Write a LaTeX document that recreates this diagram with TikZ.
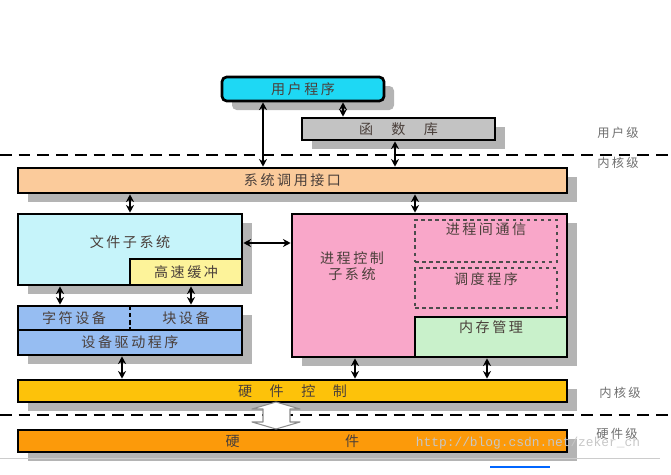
\documentclass[tikz,border=0pt]{standalone}
\usepackage{fontspec}
\setmainfont{Noto Sans CJK SC}[LetterSpace=18]
\newfontfamily\wmfont{Liberation Mono}
\usetikzlibrary{arrows.meta,positioning,calc,fit,shadows}
\definecolor{lkCyan}{HTML}{1ED8F4}
\definecolor{lkLib}{HTML}{C3C3C3}
\definecolor{lkPeach}{HTML}{FBCB9B}
\definecolor{lkIce}{HTML}{C6F4FA}
\definecolor{lkYellow}{HTML}{FDF39A}
\definecolor{lkPink}{HTML}{F9A7C9}
\definecolor{lkMint}{HTML}{C9F1CB}
\definecolor{lkBlue}{HTML}{96BDF2}
\definecolor{lkAmber}{HTML}{FDC20A}
\definecolor{lkOrange}{HTML}{FC9A0A}
\definecolor{lkInk}{HTML}{4A3F3A}
\definecolor{lkShade}{HTML}{B4B4B4}
\definecolor{lkGray}{HTML}{6E6E6E}

\begin{document}
\begin{tikzpicture}[
  x=0.03cm, y=-0.03cm,
  font=\fontsize{12}{14}\selectfont, >={Stealth[length=2.3mm,width=2.4mm]},
  every label/.style={text=lkInk,inner sep=0pt},
  blk/.style={draw=black,line width=2.3pt,inner sep=0pt},
  shd/.style={general shadow={shadow xshift=0.3cm,shadow yshift=-0.27cm,fill=lkShade}},
  lvl/.style={text=lkGray,font=\fontsize{10.5}{12}\selectfont},
  lvline/.style={line width=1.8pt,dash pattern=on 10pt off 6pt},
  con/.style={<->,line width=1.6pt},
  dsub/.style={draw=black!70,line width=1.2pt,dashed,inner sep=0pt},
]
\useasboundingbox (0,0) rectangle (671,474);

% user level
\node[blk,shd,fill=lkCyan,rounded corners=4pt,fit={(222,77) (384,101)},
      label={center:用户程序}] (user) {};
\node[blk,shd,fill=lkLib,fit={(302,118) (495,140)},
      label={center:函\hspace{1.3em}数\hspace{1.3em}库}] (lib) {};
\node[lvl] (ulvl) at (618,133) {用户级};
\draw[lvline] (0,155) -- (671,155);
\node[lvl] (klvl) at (618,163) {内核级};

% kernel
\node[blk,shd,fill=lkPeach,fit={(18,168) (567,193)},
      label={center:系统调用接口}] (sys) {};
\node[blk,shd,fill=lkIce,fit={(18,214) (242,285)},
      label={[anchor=north,yshift=-19pt]north:文件子系统}] (fs) {};
\node[blk,fill=lkYellow,fit={(130,259) (242,285)},
      label={center:高速缓冲}] (cache) {};
\node[blk,shd,fill=lkBlue,fit={(18,306) (242,330)}] (devtop) {};
\node[inner sep=0pt,fit={(18,306) (130,330)},label={center:字符设备}] (chr) {};
\node[inner sep=0pt,fit={(130,306) (242,330)},label={center:块设备}] (bdev) {};
\draw[line width=1.6pt,dash pattern=on 4pt off 2pt] (chr.north east) -- (chr.south east);
\node[blk,shd,fill=lkBlue,fit={(18,330) (242,355)},
      label={center:设备驱动程序}] (drv) {};

\node[blk,shd,fill=lkPink,fit={(292,214) (567,357)}] (proc) {};
\node[text=lkInk,align=center,inner sep=0pt] (proctxt) at (352,266) {进程控制\\子系统};
\node[dsub,fit={(415,220) (557,262)},
      label={[anchor=north,yshift=-3pt]north:进程间通信}] (ipc) {};
\node[dsub,fit={(415,268) (557,308)},
      label={[anchor=north,yshift=-4pt]north:调度程序}] (sched) {};
\node[blk,fill=lkMint,fit={(415,317) (567,357)},
      label={[anchor=north,yshift=-4pt]north:内存管理}] (mem) {};

\node[blk,shd,fill=lkAmber,fit={(18,380) (567,402)},
      label={center:硬\hspace{1.25em}件\hspace{1.25em}控\hspace{1.25em}制}] (hwc) {};
\node[lvl] (klvl2) at (620,393) {内核级};
\draw[lvline] (0,415) -- (671,415);

% hardware
\node[blk,shd,fill=lkOrange,fit={(18,430) (567,452)},
      label={center:硬\hspace{7.5em}件}] (hw) {};
\node[text=black!22,font=\wmfont\fontsize{11}{12}\selectfont] (wm) at (528,443)
  {http://blog.csdn.net/zeker\_ch};
\node[lvl] (hlvl) at (617,434) {硬件级};

% connectors
\coordinate (xa) at (263,0);
\coordinate (xb) at (343,0);
\coordinate (xc) at (395,0);
\coordinate (xd) at (130,0);
\coordinate (xe) at (415,0);
\coordinate (xf) at (60,0);
\coordinate (xg) at (191,0);
\coordinate (xh) at (122,0);
\coordinate (xi) at (355,0);
\coordinate (xj) at (487,0);
\coordinate (yr) at (0,243);
\draw[con] (xa |- user.south) -- (xa |- sys.north);
\draw[con] (xb |- user.south) -- (xb |- lib.north);
\draw[con] (xc |- lib.south) -- (xc |- sys.north);
\draw[con] (xd |- sys.south) -- (xd |- fs.north);
\draw[con] (xe |- sys.south) -- (xe |- proc.north);
\draw[con,line width=1.1pt] (yr -| fs.east) -- (yr -| proc.west);
\draw[con] (xf |- fs.south) -- (xf |- devtop.north);
\draw[con] (xg |- cache.south) -- (xg |- devtop.north);
\draw[con] (xh |- drv.south) -- (xh |- hwc.north);
\draw[con] (xi |- proc.south) -- (xi |- hwc.north);
\draw[con] (xj |- mem.south) -- (xj |- hwc.north);

% hardware control <-> hardware
\draw[draw=black!45,fill=white,line width=0.9pt,line join=round]
  (252,409) -- (276,402) -- (300,409) -- (290,409) -- (290,422) -- (300,422)
  -- (276,429) -- (252,422) -- (263,422) -- (263,409) -- cycle;

% page edge lines
\draw[black!20,line width=0.6pt] (0,458) -- (660,458);
\draw[blue!60!cyan,line width=1pt] (490,467) -- (550,467);
\end{tikzpicture}
\end{document}
